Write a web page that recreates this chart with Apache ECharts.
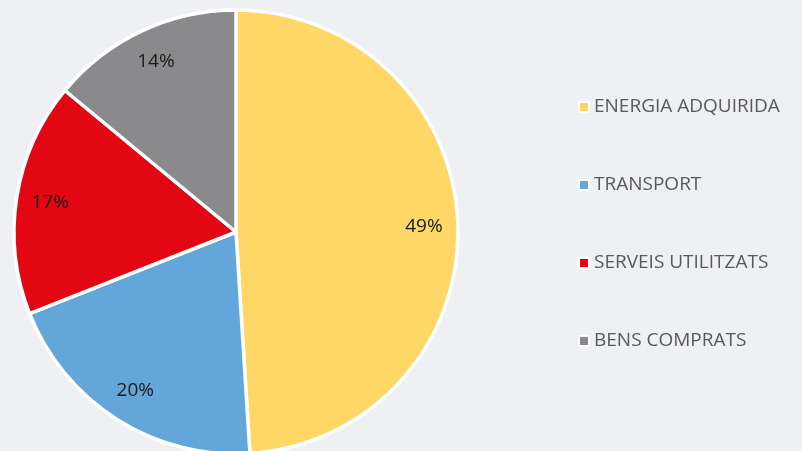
<!DOCTYPE html>
<html lang="ca">
<head>
<meta charset="UTF-8">
<title>Emissions</title>
<script src="https://cdn.jsdelivr.net/npm/echarts@6.0.0/dist/echarts.min.js"></script>
<style>
html, body { margin: 0; padding: 0; background: #eef0f4; }
</style>
</head>
<body>
<div id="main" style="width: 802px;height:451px;"></div>
<script type="text/javascript">
// categories and shares (%)
const categories = ['ENERGIA ADQUIRIDA', 'TRANSPORT', 'SERVEIS UTILITZATS', 'BENS COMPRATS'];
const values = [49, 20, 17, 14];
const colors = ['#fed766', '#62a6da', '#e30613', '#8a8a8c'];

const pieData = categories.map((name, i) => ({ name: name, value: values[i] }));

let myChart = echarts.init(document.getElementById('main'));

let options = {
  backgroundColor: '#eef0f4',
  color: colors,
  legend: {
    orient: 'vertical',
    left: 573,
    top: 91,
    itemWidth: 10,
    itemHeight: 10,
    itemGap: 56,
    icon: 'rect',
    itemStyle: { borderColor: '#fff', borderWidth: 2 },
    textStyle: { fontFamily: 'Open Sans', fontSize: 19, color: '#595959', lineHeight: 22 },
    data: categories
  },
  series: [
    {
      name: 'share',
      type: 'pie',
      center: [236, 232],
      radius: [0, 222],
      startAngle: 90,
      clockwise: true,
      silent: true,
      itemStyle: { borderColor: '#fff', borderWidth: 3.5 },
      label: { show: false },
      labelLine: { show: false },
      data: pieData
    },
    {
      // transparent ring used only to place the percentage labels
      name: 'labels',
      type: 'pie',
      center: [236, 232],
      radius: [148, 222],
      startAngle: 90,
      clockwise: true,
      silent: true,
      itemStyle: { color: 'transparent', borderWidth: 0 },
      label: {
        show: true,
        position: 'inside',
        formatter: '{c}%',
        fontFamily: 'Open Sans',
        fontSize: 19,
        color: '#1a1a1a'
      },
      labelLine: { show: false },
      data: pieData
    }
  ]
};

myChart.setOption(options);
</script>
</body>
</html>
